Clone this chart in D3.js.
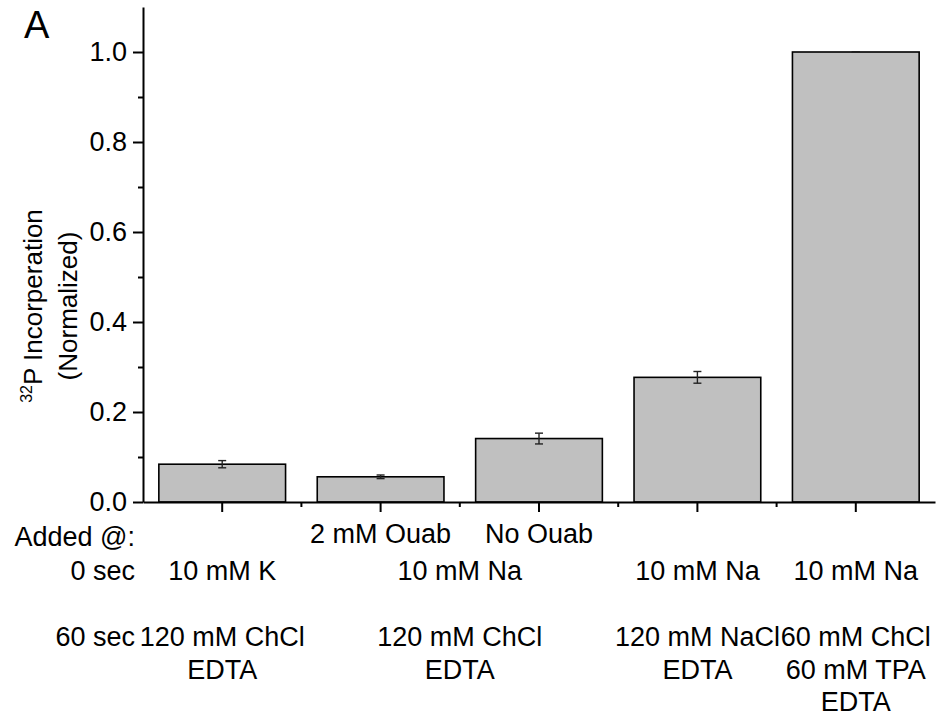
<!DOCTYPE html>
<html>
<head>
<meta charset="utf-8">
<script src="https://cdn.jsdelivr.net/npm/d3@7"></script>
<style>
  body { margin: 0; background: #fff; }
  svg text { font-family: "Liberation Sans", Arial, sans-serif; fill: #000; }
</style>
</head>
<body>
<svg id="chart" width="940" height="717"></svg>
<script>
// bar data
const conditions = ['K 120ChCl', 'Na Ouab', 'Na NoOuab', 'Na NaCl', 'Na ChCl/TPA'];
const values = [0.084, 0.056, 0.141, 0.277, 1.0];
const errors = [0.008, 0.004, 0.012, 0.013, 0.0];

// y ticks
const majorTicks = [0, 0.2, 0.4, 0.6, 0.8, 1.0];
const minorTicks = [0.1, 0.3, 0.5, 0.7, 0.9];

// label table under the axis (at = category index, 1.5 = between two bars)
const rowTitles = ['Added @:', '0 sec', '60 sec'];
const ouabLabels = [
  { at: 1, lines: ['2 mM Ouab'] },
  { at: 2, lines: ['No Ouab'] }
];
const sec0Labels = [
  { at: 0, lines: ['10 mM K'] },
  { at: 1.5, lines: ['10 mM Na'] },
  { at: 3, lines: ['10 mM Na'] },
  { at: 4, lines: ['10 mM Na'] }
];
const sec60Labels = [
  { at: 0, lines: ['120 mM ChCl', 'EDTA'] },
  { at: 1.5, lines: ['120 mM ChCl', 'EDTA'] },
  { at: 3, lines: ['120 mM NaCl', 'EDTA'] },
  { at: 4, lines: ['60 mM ChCl', '60 mM TPA', 'EDTA'] }
];

const svg = d3.select('#chart');
const m = { left: 143, right: 935, top: 7, bottom: 502 };
const fontSize = 27, lineH = 32.5;

const x = d3.scaleBand(conditions, [m.left, m.right]).paddingInner(0.2).paddingOuter(0.1);
const y = d3.scaleLinear([0, 1.1], [m.bottom, m.top]);
// center of a (possibly fractional) category index
const cx = i => x.range()[0] + x.step() * (x.paddingOuter() + i) + x.bandwidth() / 2;

/*
Bars and error bars
*/
const data = conditions.map((c, i) => ({ c, v: values[i], e: errors[i] }));

svg.append('g').selectAll('rect').data(data).join('rect')
  .attr('x', d => x(d.c))
  .attr('y', d => y(d.v))
  .attr('width', x.bandwidth())
  .attr('height', d => y(0) - y(d.v))
  .attr('fill', '#c0c0c0')
  .attr('stroke', '#000')
  .attr('stroke-width', 1.6);

const eb = svg.append('g').attr('stroke', '#222').attr('stroke-width', 1.4)
  .selectAll('g').data(data).join('g')
  .attr('transform', d => `translate(${x(d.c) + x.bandwidth() / 2},0)`);
eb.append('line').attr('y1', d => y(d.v - d.e)).attr('y2', d => y(d.v + d.e));
eb.append('line').attr('x1', -4).attr('x2', 4).attr('y1', d => y(d.v - d.e)).attr('y2', d => y(d.v - d.e));
eb.append('line').attr('x1', -4).attr('x2', 4).attr('y1', d => y(d.v + d.e)).attr('y2', d => y(d.v + d.e));

/*
Axes
*/
const yAxis = svg.append('g')
  .attr('transform', `translate(${m.left},0)`)
  .call(d3.axisLeft(y).tickValues(majorTicks).tickFormat(d3.format('.1f')).tickSize(10).tickSizeOuter(0).tickPadding(6));
svg.append('g')
  .attr('transform', `translate(${m.left},0)`)
  .call(d3.axisLeft(y).tickValues(minorTicks).tickFormat('').tickSize(5).tickSizeOuter(0))
  .select('.domain').remove();

svg.append('g')
  .attr('transform', `translate(0,${m.bottom})`)
  .call(d3.axisBottom(x).tickFormat('').tickSize(10).tickSizeOuter(0));
// minor ticks between bars
svg.append('g').attr('stroke', '#000').attr('stroke-width', 2)
  .selectAll('line').data(d3.range(1, conditions.length)).join('line')
  .attr('x1', i => cx(i - 0.5)).attr('x2', i => cx(i - 0.5))
  .attr('y1', m.bottom).attr('y2', m.bottom + 5);

svg.selectAll('.domain, .tick line').attr('stroke', '#000').attr('stroke-width', 2);
yAxis.selectAll('.tick text').style('font-size', fontSize + 'px')
  .style('font-family', '"Liberation Sans", Arial, sans-serif').attr('fill', '#000');

/*
Y label
*/
const yl = svg.append('g').attr('transform', `translate(0,306) rotate(-90)`)
  .attr('text-anchor', 'middle').style('font-size', '26px');
const l1 = yl.append('text').attr('y', 42);
l1.append('tspan').text('32').style('font-size', '16px').attr('dy', -10);
l1.append('tspan').text('P Incorperation').attr('dy', 10);
yl.append('text').attr('y', 77).text('(Normalized)');

// panel letter
svg.append('text').attr('x', 24).attr('y', 38).style('font-size', '38px').text('A');

/*
Condition table under x axis
*/
const rowBase = [546, 580, 646];
svg.append('g').attr('text-anchor', 'end').style('font-size', fontSize + 'px')
  .selectAll('text').data(rowTitles).join('text')
  .attr('x', 135).attr('y', (d, i) => rowBase[i]).text(d => d);

[ouabLabels, sec0Labels, sec60Labels].forEach((row, r) => {
  svg.append('g').attr('text-anchor', 'middle').style('font-size', fontSize + 'px')
    .selectAll('text').data(row.flatMap(d => d.lines.map((t, k) => ({ at: d.at, t, k })))).join('text')
    .attr('x', d => cx(d.at))
    .attr('y', d => rowBase[r] - (r === 0 ? 3 : 0) + d.k * lineH)
    .text(d => d.t);
});
</script>
</body>
</html>
